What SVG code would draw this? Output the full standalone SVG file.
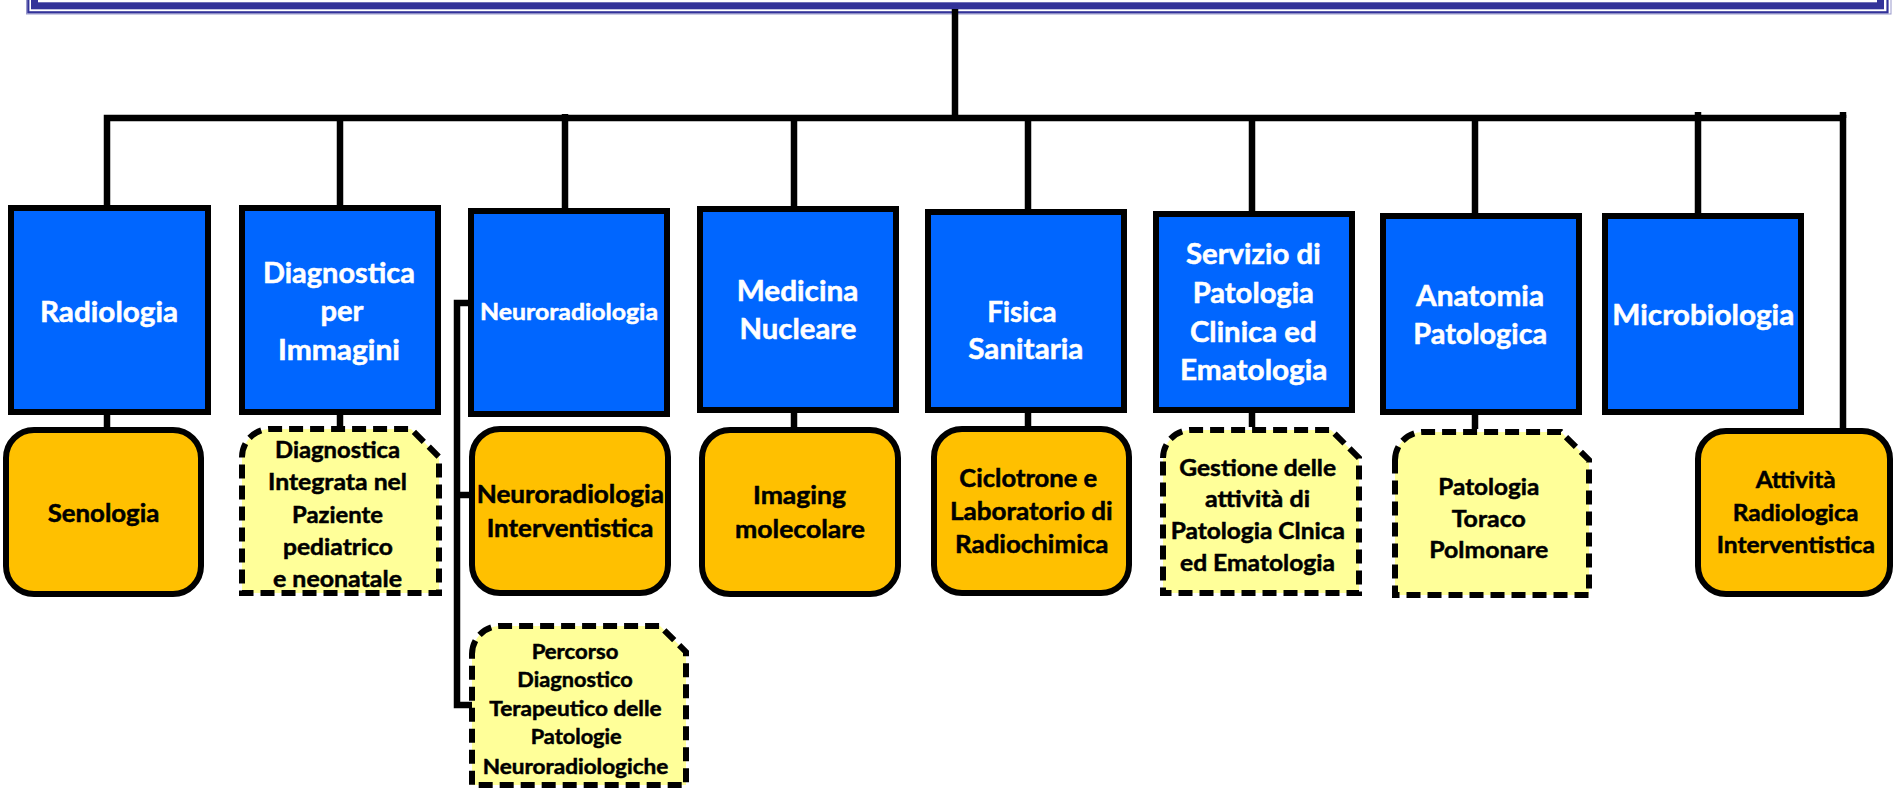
<svg xmlns="http://www.w3.org/2000/svg" width="1893" height="788" viewBox="0 0 1893 788">
<style>
.blue{fill:#0066FF;stroke:#000;stroke-width:6}
.orange{fill:#FFC000;stroke:#000;stroke-width:6}
.pale{fill:#FFFF99;stroke:#000;stroke-width:6;stroke-dasharray:14 7}
.conn{fill:none;stroke:#000;stroke-width:6.5;stroke-linejoin:miter}
text{font-family:Lato,"Liberation Sans",sans-serif;font-weight:bold;text-anchor:middle;stroke-width:0.5}
.tw{fill:#fff;stroke:#fff;font-size:28px}
.tw2{fill:#fff;stroke:#fff;font-size:23.3px}
.tb{fill:#000;stroke:#000;font-size:24.7px}
.tb2{fill:#000;stroke:#000;font-size:23.3px}
.tb3{fill:#000;stroke:#000;font-size:21.5px}
</style>
<rect width="1893" height="788" fill="#fff"/>
<g id="title">
<rect x="26.5" y="-30" width="1864.5" height="44" fill="none" stroke="#9999CC" stroke-width="1"/>
<rect x="28.3" y="-30" width="1859.2" height="42.3" fill="none" stroke="#333399" stroke-width="2.2"/>
<rect x="34.5" y="-30" width="1846" height="35.8" fill="#fff" stroke="#333399" stroke-width="7"/>
</g>
<g id="connectors" class="conn">
<path d="M955 9V118"/>
<path d="M107 205V118H1843V428"/>
<path d="M340 118V205"/>
<path d="M565 114V208"/>
<path d="M794 118V206"/>
<path d="M1028 118V209"/>
<path d="M1252 118V211"/>
<path d="M1475 118V213"/>
<path d="M1698 112V213"/>
<path d="M1843 112V118"/>
<path d="M107 415V427"/>
<path d="M340 415V426"/>
<path d="M794 413V427"/>
<path d="M1028 413V426"/>
<path d="M1252 413V427"/>
<path d="M1475 415V429"/>
<path d="M468 303H457V705H472"/>
<path d="M457 495H469"/>
</g>
<g id="radiologia">
<rect class="blue" x="11" y="208" width="197" height="204"/>
<text class="tw" x="109" y="321.7" textLength="138" lengthAdjust="spacingAndGlyphs">Radiologia</text>
</g>
<g id="diagnostica">
<rect class="blue" x="242" y="208" width="196" height="204"/>
<text class="tw" x="339" y="282.7" textLength="152" lengthAdjust="spacingAndGlyphs">Diagnostica</text>
<text class="tw" x="342" y="321" textLength="43" lengthAdjust="spacingAndGlyphs">per</text>
<text class="tw" x="339" y="360" textLength="122" lengthAdjust="spacingAndGlyphs">Immagini</text>
</g>
<g id="neuroradiologia">
<rect class="blue" x="471" y="211" width="196" height="203"/>
<text class="tw2" x="569" y="320" textLength="178" lengthAdjust="spacingAndGlyphs">Neuroradiologia</text>
</g>
<g id="medicina">
<rect class="blue" x="700" y="209" width="196" height="201"/>
<text class="tw" x="797.5" y="301" textLength="121.7" lengthAdjust="spacingAndGlyphs">Medicina</text>
<text class="tw" x="798" y="339.3" textLength="117" lengthAdjust="spacingAndGlyphs">Nucleare</text>
</g>
<g id="fisica">
<rect class="blue" x="928" y="212" width="196" height="198"/>
<text class="tw" x="1022" y="321.7" textLength="69.3" lengthAdjust="spacingAndGlyphs">Fisica</text>
<text class="tw" x="1025.8" y="359.3" textLength="115" lengthAdjust="spacingAndGlyphs">Sanitaria</text>
</g>
<g id="servizio">
<rect class="blue" x="1156" y="214" width="196" height="196"/>
<text class="tw" x="1253.3" y="264" textLength="134.7" lengthAdjust="spacingAndGlyphs">Servizio di</text>
<text class="tw" x="1253.3" y="303.3" textLength="121.3" lengthAdjust="spacingAndGlyphs">Patologia</text>
<text class="tw" x="1253.3" y="341.7" textLength="126.7" lengthAdjust="spacingAndGlyphs">Clinica ed</text>
<text class="tw" x="1253.7" y="380" textLength="147.3" lengthAdjust="spacingAndGlyphs">Ematologia</text>
</g>
<g id="anatomia">
<rect class="blue" x="1383" y="216" width="196" height="196"/>
<text class="tw" x="1480" y="306" textLength="128" lengthAdjust="spacingAndGlyphs">Anatomia</text>
<text class="tw" x="1480.3" y="344" textLength="134" lengthAdjust="spacingAndGlyphs">Patologica</text>
</g>
<g id="microbiologia">
<rect class="blue" x="1605" y="216" width="196" height="196"/>
<text class="tw" x="1703.3" y="325" textLength="182" lengthAdjust="spacingAndGlyphs">Microbiologia</text>
</g>
<g id="senologia">
<rect class="orange" x="6" y="430" width="195" height="164" rx="28"/>
<text class="tb" x="103.5" y="521.7" textLength="111.6" lengthAdjust="spacingAndGlyphs">Senologia</text>
</g>
<g id="diagnostica-integrata">
<path class="pale" d="M242 457A28 28 0 0 1 270 429H411L439 457V593H242Z"/>
<text class="tb2" x="337.5" y="458.3" textLength="125" lengthAdjust="spacingAndGlyphs">Diagnostica</text>
<text class="tb2" x="337.5" y="490" textLength="139" lengthAdjust="spacingAndGlyphs">Integrata nel</text>
<text class="tb2" x="337.5" y="522.7" textLength="91" lengthAdjust="spacingAndGlyphs">Paziente</text>
<text class="tb2" x="338" y="555" textLength="110" lengthAdjust="spacingAndGlyphs">pediatrico</text>
<text class="tb2" x="337.5" y="586.7" textLength="129" lengthAdjust="spacingAndGlyphs">e neonatale</text>
</g>
<g id="neuro-interventistica">
<rect class="orange" x="472" y="429" width="196" height="164" rx="28"/>
<text class="tb" x="570.3" y="503.3" textLength="187.3" lengthAdjust="spacingAndGlyphs">Neuroradiologia</text>
<text class="tb" x="570" y="536.7" textLength="166.7" lengthAdjust="spacingAndGlyphs">Interventistica</text>
</g>
<g id="percorso">
<path class="pale" d="M472 654A28 28 0 0 1 500 626H660L686 652V785H472Z"/>
<text class="tb3" x="575" y="659.3" textLength="86.7" lengthAdjust="spacingAndGlyphs">Percorso</text>
<text class="tb3" x="575" y="687.3" textLength="115.3" lengthAdjust="spacingAndGlyphs">Diagnostico</text>
<text class="tb3" x="575.5" y="715.5" textLength="172.3" lengthAdjust="spacingAndGlyphs">Terapeutico delle</text>
<text class="tb3" x="576.2" y="743.5" textLength="91" lengthAdjust="spacingAndGlyphs">Patologie</text>
<text class="tb3" x="575.5" y="773.5" textLength="185.7" lengthAdjust="spacingAndGlyphs">Neuroradiologiche</text>
</g>
<g id="imaging">
<rect class="orange" x="702" y="430" width="196" height="164" rx="28"/>
<text class="tb" x="799.5" y="504.3" textLength="93" lengthAdjust="spacingAndGlyphs">Imaging</text>
<text class="tb" x="800" y="537.7" textLength="130" lengthAdjust="spacingAndGlyphs">molecolare</text>
</g>
<g id="ciclotrone">
<rect class="orange" x="934" y="429" width="195" height="164" rx="28"/>
<text class="tb" x="1028.3" y="486.7" textLength="138" lengthAdjust="spacingAndGlyphs">Ciclotrone e</text>
<text class="tb" x="1031.3" y="520" textLength="162.7" lengthAdjust="spacingAndGlyphs">Laboratorio di</text>
<text class="tb" x="1031.7" y="553.3" textLength="153.3" lengthAdjust="spacingAndGlyphs">Radiochimica</text>
</g>
<g id="gestione">
<path class="pale" d="M1163 458A28 28 0 0 1 1191 430H1331L1359 458V593H1163Z"/>
<text class="tb2" x="1257.7" y="476" textLength="156.7" lengthAdjust="spacingAndGlyphs">Gestione delle</text>
<text class="tb2" x="1257.5" y="506.7" textLength="105" lengthAdjust="spacingAndGlyphs">attività di</text>
<text class="tb2" x="1257.8" y="539.3" textLength="174.3" lengthAdjust="spacingAndGlyphs">Patologia Clnica</text>
<text class="tb2" x="1257.5" y="570.7" textLength="155" lengthAdjust="spacingAndGlyphs">ed Ematologia</text>
</g>
<g id="patologia-toraco">
<path class="pale" d="M1395 460A28 28 0 0 1 1423 432H1561L1589 460V595H1395Z"/>
<text class="tb2" x="1488.8" y="495" textLength="101" lengthAdjust="spacingAndGlyphs">Patologia</text>
<text class="tb2" x="1488.7" y="526.7" textLength="74" lengthAdjust="spacingAndGlyphs">Toraco</text>
<text class="tb2" x="1488.8" y="558.3" textLength="119" lengthAdjust="spacingAndGlyphs">Polmonare</text>
</g>
<g id="attivita">
<rect class="orange" x="1698" y="431" width="192" height="163" rx="28"/>
<text class="tb2" x="1795.7" y="488.3" textLength="80" lengthAdjust="spacingAndGlyphs">Attività</text>
<text class="tb2" x="1795.5" y="521" textLength="125.7" lengthAdjust="spacingAndGlyphs">Radiologica</text>
<text class="tb2" x="1795.8" y="552.7" textLength="158.3" lengthAdjust="spacingAndGlyphs">Interventistica</text>
</g>
</svg>
